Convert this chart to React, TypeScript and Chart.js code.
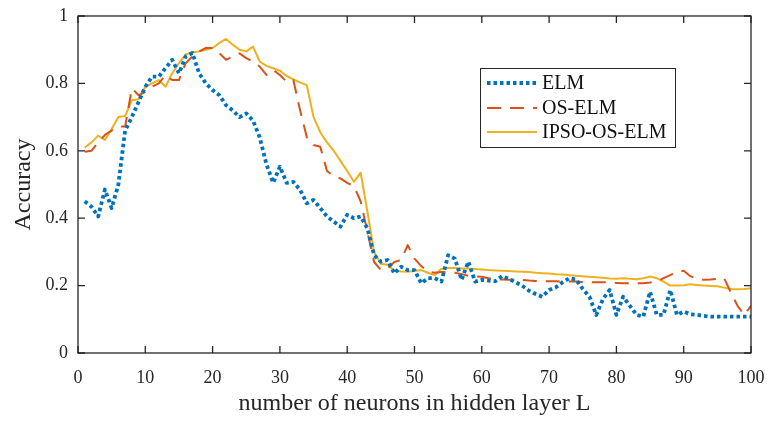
import React, { useEffect, useRef } from "react";
import { Chart, registerables } from "chart.js";

Chart.register(...registerables);

const seriesLabels = ["ELM", "OS-ELM", "IPSO-OS-ELM"];
const xTicks = [0, 10, 20, 30, 40, 50, 60, 70, 80, 90, 100];
const yTicks = [0, 0.2, 0.4, 0.6, 0.8, 1];

// x = 1..100
const elm = [
  0.45, 0.434, 0.405, 0.485, 0.43, 0.5, 0.66, 0.7, 0.745, 0.79,
  0.82, 0.82, 0.845, 0.87, 0.83, 0.88, 0.89, 0.83, 0.8, 0.78,
  0.765, 0.735, 0.72, 0.7, 0.711, 0.69, 0.64, 0.56, 0.505, 0.553,
  0.505, 0.508, 0.484, 0.444, 0.454, 0.43, 0.405, 0.39, 0.375, 0.41,
  0.4, 0.405, 0.37, 0.29, 0.271, 0.276, 0.236, 0.256, 0.246, 0.246,
  0.207, 0.222, 0.222, 0.212, 0.29, 0.28, 0.217, 0.271, 0.212, 0.217,
  0.215, 0.213, 0.228, 0.22, 0.21, 0.2, 0.185, 0.175, 0.167, 0.187,
  0.195, 0.21, 0.222, 0.218, 0.19, 0.167, 0.113, 0.16, 0.187, 0.113,
  0.167, 0.14, 0.113, 0.108, 0.182, 0.113, 0.113, 0.187, 0.113, 0.123,
  0.115, 0.113, 0.11, 0.108, 0.108, 0.108, 0.108, 0.108, 0.108, 0.108,
];

const osElm = [
  0.597, 0.6, 0.625, 0.647, 0.66, 0.672, 0.672, 0.785, 0.765, 0.775,
  0.79, 0.8, 0.825, 0.81, 0.81, 0.86, 0.88, 0.895, 0.905, 0.905,
  0.89, 0.87, 0.88, 0.889, 0.875, 0.865, 0.85, 0.825, 0.84, 0.825,
  0.805, 0.81, 0.72, 0.64, 0.617, 0.612, 0.54, 0.525, 0.518, 0.505,
  0.495, 0.45, 0.36, 0.27, 0.246, 0.25, 0.27, 0.276, 0.32, 0.28,
  0.258, 0.242, 0.238, 0.24, 0.241, 0.238, 0.234, 0.229, 0.227, 0.226,
  0.222, 0.219, 0.218, 0.217, 0.217, 0.217, 0.215, 0.214, 0.213, 0.213,
  0.213, 0.212, 0.212, 0.212, 0.211, 0.21, 0.21, 0.21, 0.209, 0.208,
  0.207, 0.207, 0.207, 0.207, 0.209, 0.212, 0.222, 0.231, 0.24, 0.244,
  0.228, 0.22, 0.217, 0.218, 0.22, 0.222, 0.18, 0.14, 0.113, 0.14,
];

const ipsoOsElm = [
  0.61, 0.625, 0.645, 0.632, 0.665, 0.7, 0.703, 0.75, 0.753, 0.79,
  0.8, 0.81, 0.79, 0.83, 0.86, 0.886, 0.892, 0.895, 0.9, 0.905,
  0.92, 0.932, 0.915, 0.9, 0.895, 0.909, 0.865, 0.852, 0.845, 0.838,
  0.822, 0.812, 0.803, 0.795, 0.7, 0.655, 0.625, 0.6, 0.57, 0.54,
  0.508, 0.535, 0.42, 0.3, 0.264, 0.262, 0.245, 0.242, 0.241, 0.243,
  0.246, 0.238, 0.231, 0.25, 0.252, 0.252, 0.251, 0.251, 0.249, 0.248,
  0.246, 0.245, 0.244, 0.243, 0.242, 0.241, 0.24, 0.238, 0.237, 0.236,
  0.234, 0.233, 0.231, 0.229, 0.228, 0.226, 0.225, 0.223, 0.221, 0.22,
  0.222, 0.22, 0.219, 0.222, 0.227, 0.222, 0.212, 0.2, 0.2, 0.201,
  0.204, 0.202, 0.2, 0.199, 0.198, 0.194, 0.19, 0.189, 0.19, 0.192,
];

const FONT = "'Liberation Serif', 'Times New Roman', serif";
const AXIS = "#262626";
const COLORS = ["#0072BD", "#D95319", "#EDB120"];
const DASHES = [[3.5, 3], [14, 9], []];
const WIDTHS = [3.8, 2, 2];

const toPoints = (arr: number[]) => arr.map((y, i) => ({ x: i + 1, y }));

const boxPlugin = {
  id: "boxPlugin",
  afterDatasetsDraw(chart: any) {
    const { ctx, chartArea: a, scales } = chart;
    const xs = scales.x;
    const ys = scales.y;
    ctx.save();
    ctx.strokeStyle = AXIS;
    ctx.lineWidth = 1.3;
    ctx.setLineDash([]);
    ctx.strokeRect(a.left, a.top, a.right - a.left, a.bottom - a.top);
    const tl = 7;
    ctx.beginPath();
    xTicks.forEach((v) => {
      const px = xs.getPixelForValue(v);
      ctx.moveTo(px, a.bottom);
      ctx.lineTo(px, a.bottom - tl);
      ctx.moveTo(px, a.top);
      ctx.lineTo(px, a.top + tl);
    });
    yTicks.forEach((v) => {
      const py = ys.getPixelForValue(v);
      ctx.moveTo(a.left, py);
      ctx.lineTo(a.left + tl, py);
      ctx.moveTo(a.right, py);
      ctx.lineTo(a.right - tl, py);
    });
    ctx.stroke();

    // legend
    const lx = 480, ly = 68, lw = 195, lh = 79;
    ctx.fillStyle = "#ffffff";
    ctx.fillRect(lx, ly, lw, lh);
    ctx.strokeStyle = AXIS;
    ctx.lineWidth = 1;
    ctx.strokeRect(lx + 0.5, ly + 0.5, lw, lh);
    const rows = [83, 108, 132];
    chart.data.datasets.forEach((ds: any, i: number) => {
      const y = rows[i];
      ctx.beginPath();
      ctx.strokeStyle = ds.borderColor;
      ctx.lineWidth = ds.borderWidth;
      ctx.setLineDash(ds.borderDash || []);
      ctx.moveTo(487, y);
      ctx.lineTo(537, y);
      ctx.stroke();
      ctx.setLineDash([]);
      ctx.fillStyle = "#111111";
      ctx.font = `20px ${FONT}`;
      ctx.textAlign = "left";
      ctx.textBaseline = "middle";
      ctx.fillText(ds.label, 542, y + 1);
    });
    ctx.restore();
  },
};

export default function App() {
  const ref = useRef<HTMLCanvasElement | null>(null);
  useEffect(() => {
    document.body.style.margin = "0";
    if (!ref.current) return;
    const datasets = [elm, osElm, ipsoOsElm].map((arr, i) => ({
      label: seriesLabels[i],
      data: toPoints(arr),
      borderColor: COLORS[i],
      backgroundColor: COLORS[i],
      borderWidth: WIDTHS[i],
      borderDash: DASHES[i],
      borderCapStyle: "butt" as const,
      borderJoinStyle: "round" as const,
      pointRadius: 0,
      tension: 0,
      fill: false,
    }));
    const chart = new Chart(ref.current, {
      type: "line",
      data: { datasets },
      options: {
        responsive: false,
        animation: false,
        layout: { padding: { top: 16, right: 17, left: 0, bottom: 0 } },
        plugins: { legend: { display: false }, tooltip: { enabled: false } },
        scales: {
          x: {
            type: "linear",
            min: 0,
            max: 100,
            afterFit: (s: any) => {
              s.height = 68;
              s.paddingLeft = 0;
              s.paddingRight = 0;
            },
            afterBuildTicks: (s: any) => { s.ticks = xTicks.map((v) => ({ value: v })); },
            grid: { display: false, drawTicks: false },
            border: { display: false },
            ticks: { color: AXIS, font: { family: FONT, size: 18 }, padding: 14, maxRotation: 0 },
            title: {
              display: true,
              text: "number of neurons in hidden layer L",
              color: AXIS,
              font: { family: FONT, size: 24 },
              padding: { top: 0, bottom: 3 },
            },
          },
          y: {
            type: "linear",
            min: 0,
            max: 1,
            afterFit: (s: any) => {
              s.width = 78;
              s.paddingTop = 0;
              s.paddingBottom = 0;
            },
            afterBuildTicks: (s: any) => { s.ticks = yTicks.map((v) => ({ value: v })); },
            grid: { display: false, drawTicks: false },
            border: { display: false },
            ticks: {
              color: AXIS,
              font: { family: FONT, size: 18 },
              padding: 10,
              callback: (v: any) => String(Math.round(Number(v) * 10) / 10),
            },
            title: {
              display: true,
              text: "Accuracy",
              color: AXIS,
              font: { family: FONT, size: 24 },
              padding: { top: 9, bottom: 0 },
            },
          },
        },
      },
      plugins: [boxPlugin],
    });
    return () => chart.destroy();
  }, []);
  return (
    <div style={{ width: 768, height: 421, background: "#fff" }}>
      <canvas ref={ref} width={768} height={421} style={{ display: "block" }} />
    </div>
  );
}
